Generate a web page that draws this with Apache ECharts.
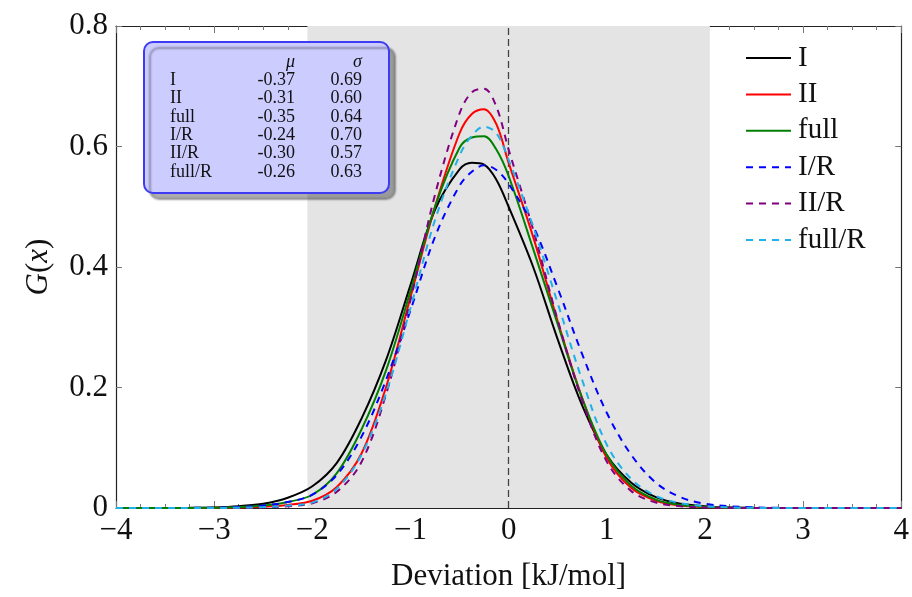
<!DOCTYPE html>
<html>
<head>
<meta charset="utf-8">
<script src="https://cdn.jsdelivr.net/npm/echarts@6/dist/echarts.min.js"></script>
<style>html,body{margin:0;padding:0;background:#fff}#c{width:912px;height:597px}</style>
</head>
<body>
<div id="c"></div>
<script>
// ---- data ----
const xs = [-4,-3.75,-3.5,-3.25,-3,-2.75,-2.5,-2.25,-2,-1.75,-1.5,-1.25,-1,-0.75,-0.5,-0.375,-0.25,-0.125,0,0.25,0.5,0.75,1,1.25,1.5,1.75,2,2.25,2.5,2.75,3,3.25,3.5,3.75,4];
const seriesNames = ['I','II','full','I/R','II/R','full/R'];
const valI     = [0,0,0,0.0003,0.001,0.003,0.007,0.017,0.036,0.075,0.148,0.245,0.37,0.495,0.562,0.573,0.570,0.545,0.50,0.40,0.28,0.17,0.088,0.042,0.018,0.007,0.003,0.001,0.0003,0,0,0,0,0,0];
const valII    = [0,0,0,0,0.0003,0.001,0.002,0.005,0.012,0.035,0.09,0.2,0.35,0.5,0.622,0.654,0.662,0.637,0.573,0.45,0.31,0.182,0.083,0.033,0.012,0.004,0.0015,0.0005,0,0,0,0,0,0,0];
const valFull  = [0,0,0,0.0002,0.0005,0.0015,0.004,0.01,0.022,0.058,0.13,0.228,0.36,0.50,0.598,0.615,0.617,0.595,0.551,0.43,0.305,0.182,0.088,0.037,0.014,0.005,0.002,0.0007,0.0002,0,0,0,0,0,0];
const valIR    = [0,0,0,0.0002,0.0005,0.0015,0.004,0.01,0.022,0.055,0.118,0.212,0.328,0.45,0.535,0.558,0.569,0.561,0.538,0.468,0.365,0.255,0.158,0.088,0.042,0.018,0.007,0.003,0.001,0.0003,0,0,0,0,0];
const valIIR   = [0,0,0,0,0,0.0003,0.001,0.003,0.008,0.027,0.076,0.188,0.345,0.52,0.655,0.69,0.696,0.666,0.595,0.462,0.312,0.178,0.077,0.028,0.009,0.003,0.001,0.0003,0,0,0,0,0,0,0];
const valFullR = [0,0,0,0,0,0.0005,0.0015,0.004,0.009,0.032,0.088,0.19,0.332,0.478,0.585,0.618,0.633,0.622,0.578,0.467,0.34,0.212,0.105,0.048,0.02,0.008,0.003,0.001,0.0003,0,0,0,0,0,0];
const xTicks = [-4,-3,-2,-1,0,1,2,3,4];
const yTicks = [0,0.2,0.4,0.6,0.8];
const bandRange = [-2.05, 2.05];
const zeroLine = 0;
// table
const tableNames = ['I','II','full','I/R','II/R','full/R'];
const tableMu    = ['-0.37','-0.31','-0.35','-0.24','-0.30','-0.26'];
const tableSigma = ['0.69','0.60','0.64','0.70','0.57','0.63'];

// ---- styling ----
const FONT = '"Liberation Serif", "DejaVu Serif", serif';
const colors = ['#000000','#ff0000','#008000','#0000ff','#800080','#1fb1ea'];
const dashed = [false,false,false,true,true,true];
const allVals = [valI,valII,valFull,valIR,valIIR,valFullR];

const chart = echarts.init(document.getElementById('c'), null, {renderer:'canvas'});

const series = seriesNames.map((n,i)=>({
  name:n, type:'line', xAxisIndex:0, yAxisIndex:0,
  data: xs.map((x,k)=>[x, allVals[i][k]]),
  symbol:'none', showSymbol:false, smooth:0.35, z:3,
  lineStyle:{color:colors[i], width:2, type: dashed[i] ? [7,6] : 'solid'},
  itemStyle:{color:colors[i]},
  emphasis:{disabled:true}, animation:false
}));
series.unshift({
  name:'band', type:'line', data:[], xAxisIndex:0, yAxisIndex:0, silent:true, animation:false,
  markArea:{silent:true, z:1, itemStyle:{color:'#e4e4e4'}, data:[[{xAxis:bandRange[0]},{xAxis:bandRange[1]}]]},
  markLine:{silent:true, z:1, symbol:'none', label:{show:false},
    lineStyle:{color:'#444', width:1.3, type:[7,4]}, data:[{xAxis:zeroLine}]}
});

// table graphics
const g = [];
g.push({type:'rect', shape:{x:144,y:42,width:245,height:151,r:9},
  style:{fill:'#ccccff', stroke:'#3c3cf5', lineWidth:2, shadowColor:'rgba(0,0,0,0.32)', shadowOffsetX:6, shadowOffsetY:6, shadowBlur:2}, z:10});
const tf = {fontFamily:FONT, fontSize:18, fill:'#111'};
g.push({type:'text', z:11, style:Object.assign({}, tf, {text:'μ', x:295, y:62, align:'right', verticalAlign:'middle', fontStyle:'italic'})});
g.push({type:'text', z:11, style:Object.assign({}, tf, {text:'σ', x:362, y:62, align:'right', verticalAlign:'middle', fontStyle:'italic'})});
tableNames.forEach((n,i)=>{
  const y = 80 + i*18.4;
  g.push({type:'text', z:11, style:Object.assign({}, tf, {text:n, x:170, y:y, align:'left', verticalAlign:'middle'})});
  g.push({type:'text', z:11, style:Object.assign({}, tf, {text:tableMu[i], x:295, y:y, align:'right', verticalAlign:'middle'})});
  g.push({type:'text', z:11, style:Object.assign({}, tf, {text:tableSigma[i], x:362, y:y, align:'right', verticalAlign:'middle'})});
});

const axisLineStyle = {color:'#222', width:1.2};
const tickStyle = {color:'#777', width:1};
const fmtMinus = v => (v<0 ? '\u2212'+Math.abs(v) : String(v));

const option = {
  animation:false,
  backgroundColor:'#fff',
  grid:{left:116, right:9, top:26, bottom:86, containLabel:false},
  legend:{
    data:seriesNames, orient:'vertical', left:745, top:43, padding:0,
    itemWidth:45, itemHeight:14, itemGap:6.4,
    itemStyle:{opacity:0},
    textStyle:{fontFamily:FONT, fontSize:29, color:'#111', lineHeight:30, padding:[0,0,0,2]},
    selectedMode:false
  },
  xAxis:[
    {type:'value', min:xTicks[0], max:xTicks[xTicks.length-1], interval:1, position:'bottom',
     axisLine:{show:true, onZero:false, lineStyle:axisLineStyle},
     axisTick:{show:true, inside:true, length:7, lineStyle:tickStyle},
     minorTick:{show:true, splitNumber:4, length:4, lineStyle:tickStyle},
     splitLine:{show:false},
     axisLabel:{fontFamily:FONT, fontSize:31, color:'#111', margin:7, formatter:fmtMinus},
     name:'Deviation [kJ/mol]', nameLocation:'middle', nameGap:53,
     nameTextStyle:{fontFamily:FONT, fontSize:31, color:'#111'}},
    {type:'value', min:xTicks[0], max:xTicks[xTicks.length-1], interval:1, position:'top',
     axisLine:{show:true, onZero:false, lineStyle:axisLineStyle},
     axisTick:{show:true, inside:true, length:7, lineStyle:tickStyle},
     minorTick:{show:true, splitNumber:4, length:4, lineStyle:tickStyle},
     splitLine:{show:false}, axisLabel:{show:false}}
  ],
  yAxis:[
    {type:'value', min:yTicks[0], max:yTicks[yTicks.length-1], interval:0.2, position:'left',
     axisLine:{show:true, onZero:false, lineStyle:axisLineStyle},
     axisTick:{show:true, inside:true, length:6, lineStyle:tickStyle},
     splitLine:{show:false},
     axisLabel:{fontFamily:FONT, fontSize:31, color:'#111', margin:8, formatter:v=> v===0 ? '0' : v.toFixed(1)},
     name:'{i|G}({i|x})', nameLocation:'middle', nameGap:62, nameRotate:90,
     nameTextStyle:{fontFamily:FONT, fontSize:31, color:'#111', rich:{i:{fontFamily:FONT, fontSize:31, fontStyle:'italic', color:'#111'}}}},
    {type:'value', min:yTicks[0], max:yTicks[yTicks.length-1], interval:0.2, position:'right',
     axisLine:{show:true, onZero:false, lineStyle:axisLineStyle},
     axisTick:{show:true, inside:true, length:6, lineStyle:tickStyle},
     splitLine:{show:false}, axisLabel:{show:false}}
  ],
  series: series,
  graphic: g
};
chart.setOption(option);
</script>
</body>
</html>
